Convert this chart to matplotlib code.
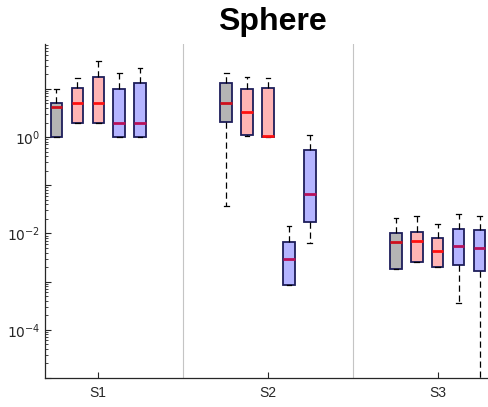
import numpy as np
import matplotlib
matplotlib.use("Agg")
import matplotlib.pyplot as plt
from matplotlib.ticker import LogLocator, FixedLocator, FuncFormatter, NullFormatter

plt.rcParams['font.family'] = ['Liberation Sans', 'DejaVu Sans']

groups = ["S1", "S2", "S3"]
title = "Sphere"

# per group, 5 boxes: gray, pink, pink, blue, blue
q1 = [[1.0, 2.0, 2.0, 1.0, 1.0],
      [2.05, 1.1, 1.0, 0.00087, 0.0175],
      [0.00184, 0.0026, 0.00205, 0.0022, 0.0017]]
med = [[4.1, 5.1, 5.1, 2.0, 2.0],
       [5.2, 3.3, 1.03, 0.0029, 0.066],
       [0.0066, 0.0069, 0.0044, 0.0055, 0.005]]
q3 = [[5.2, 10.3, 17.5, 10.0, 13.5],
      [13.3, 9.8, 10.3, 0.0065, 0.537],
      [0.0103, 0.0105, 0.0079, 0.0123, 0.012]]
whi_hi = [[10.1, 16.4, 38.0, 21.0, 26.5],
          [21.0, 17.8, 17.0, 0.014, 1.1],
          [0.0213, 0.0226, 0.0156, 0.025, 0.023]]
whi_lo = [[1.0, 2.0, 2.0, 1.0, 1.0],
          [0.0365, 1.05, 1.0, 0.00087, 0.0063],
          [0.00184, 0.0026, 0.00205, 0.00036, 1e-6]]

kinds = ["gray", "pink", "pink", "blue", "blue"]
fills = {"gray": "#b4b4b4", "pink": "#ffb4b4", "blue": "#b4b4ff"}
meds = {"gray": "#d0101c", "pink": "#ff1010", "blue": "#b8105a"}
edge = "#1e1e5a"

fig = plt.figure(figsize=(4.89, 4.07), dpi=100)
ax = fig.add_axes([45/489, 29/407, 446/489, 334/407])

offsets = np.array([-2, -1, 0, 1, 2]) * 0.1235
width = 0.065

for g in range(3):
    for k in range(5):
        stats = [dict(med=med[g][k], q1=q1[g][k], q3=q3[g][k],
                      whislo=whi_lo[g][k], whishi=whi_hi[g][k], fliers=[])]
        pos = g + 1 + offsets[k]
        ax.bxp(stats, positions=[pos], widths=width, patch_artist=True,
               showfliers=False, manage_ticks=False,
               boxprops=dict(facecolor=fills[kinds[k]], edgecolor=edge, linewidth=1.3),
               medianprops=dict(color=meds[kinds[k]], linewidth=2.0, solid_capstyle='butt'),
               whiskerprops=dict(color="black", linewidth=0.9, linestyle=(0, (5, 3))),
               capprops=dict(color="black", linewidth=0.9),
               capwidths=width * 0.45)

for sx in [1.5, 2.5]:
    ax.axvline(sx, color="#c4c4c4", linewidth=0.8, zorder=0)

ax.set_yscale("log")
ax.set_ylim(1e-5, 10**1.93)
ax.set_xlim(0.688, 3.312)

ax.set_xticks([1, 2, 3])
ax.set_xticklabels(groups, fontsize=10)
ax.yaxis.set_major_locator(FixedLocator([10.0**e for e in range(-5, 3)]))
ax.yaxis.set_major_formatter(FuncFormatter(
    lambda v, p: (r"$10^{%d}$" % round(np.log10(v))) if round(np.log10(v)) in (0, -2, -4) else ""))
ax.yaxis.set_minor_locator(LogLocator(base=10, subs=np.arange(2, 10), numticks=20))
ax.yaxis.set_minor_formatter(NullFormatter())
ax.tick_params(axis="both", which="both", direction="in", colors="#262626", labelcolor="#262626")
ax.tick_params(axis="y", which="major", length=4, labelsize=10)
ax.tick_params(axis="y", which="minor", length=2.5)
ax.tick_params(axis="x", length=4, pad=6)

for s in ["top", "right"]:
    ax.spines[s].set_visible(False)
for s in ["left", "bottom"]:
    ax.spines[s].set_color("#262626")
    ax.spines[s].set_linewidth(0.9)

fig.text(272/489, 1 - 30/407, title, ha="center", va="baseline", fontsize=23, fontweight="bold")

fig.savefig("out.png", dpi=100)
